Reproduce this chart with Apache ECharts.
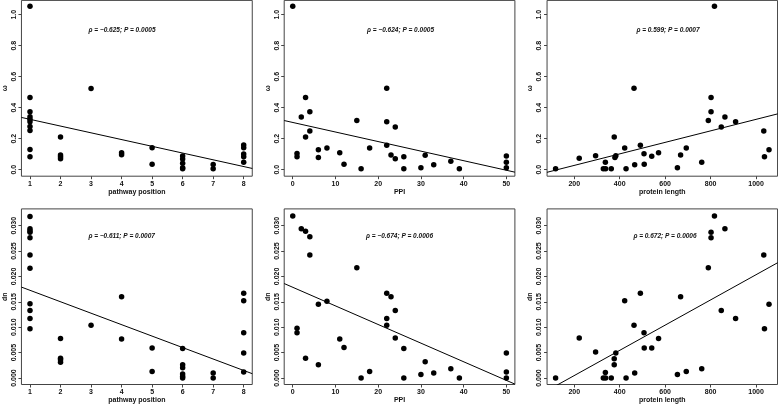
<!DOCTYPE html>
<html>
<head>
<meta charset="utf-8">
<script src="https://cdn.jsdelivr.net/npm/echarts@6/dist/echarts.min.js"></script>
<style>
html,body{margin:0;padding:0;background:#fff;}
#c{width:778px;height:406px;}
</style>
</head>
<body>
<div id="c"></div>
<script>
// ---- data ----
var posTicks = [1,2,3,4,5,6,7,8];
var ppiTicks = [0,10,20,30,40,50];
var lenTicks = [200,400,600,800,1000];
var omegaTicks = [0,0.2,0.4,0.6,0.8,1.0];
var dnTicks = [0,0.005,0.010,0.015,0.020,0.025,0.030];

// omega vs pathway position
var posOmegaX = [1,1,1,1,1,1,1,1,1,1, 2,2,2,2, 3, 4,4, 5,5, 6,6,6,6,6, 7,7, 8,8,8,8,8];
var posOmegaY = [1.054,0.465,0.374,0.342,0.325,0.31,0.278,0.252,0.131,0.084, 0.211,0.095,0.084,0.071, 0.523, 0.110,0.097, 0.142,0.035, 0.088,0.069,0.041,0.013,0.006, 0.033,0.006, 0.159,0.142,0.101,0.084,0.048];

// omega vs PPI
var ppiOmegaX = [0,1,1,2,3,3,4,4,6,6,8,11,12,15,16,18,22,22,22,23,24,24,26,26,30,31,33,37,39,50,50,50];
var ppiOmegaY = [1.054,0.105,0.084,0.34,0.465,0.211,0.374,0.25,0.129,0.078,0.14,0.11,0.035,0.317,0.006,0.14,0.525,0.31,0.158,0.095,0.275,0.071,0.084,0.006,0.013,0.093,0.032,0.054,0.006,0.088,0.048,0.013];

// omega vs protein length
var lenOmegaX = [118,222,294,328,338,337,363,376,379,383,422,428,463,466,491,507,508,541,571,654,668,693,761,790,802,802,817,847,863,910,1034,1037,1057];
var lenOmegaY = [0.006,0.073,0.09,0.006,0.006,0.048,0.006,0.211,0.078,0.09,0.14,0.006,0.525,0.032,0.158,0.103,0.035,0.086,0.11,0.013,0.095,0.14,0.048,0.317,0.465,0.374,1.054,0.275,0.34,0.31,0.25,0.084,0.129];

// dn vs pathway position
var posDnX = [1,1,1,1,1,1,1,1,1,1,1, 2,2,2,2, 3, 4,4, 5,5, 6,6,6,6,6,6, 7,7, 8,8,8,8,8];
var posDnY = [0.0318,0.0294,0.0290,0.0287,0.0276,0.0242,0.0216,0.0146,0.0133,0.0117,0.0097, 0.0078,0.0039,0.0036,0.0031, 0.0104, 0.0160,0.0077, 0.0059,0.0013, 0.0058,0.0026,0.0020,0.0008,0.0003,0.0000, 0.0010,0.0000, 0.0167,0.0152,0.0089,0.0049,0.0012];

// dn vs PPI
var ppiDnX = [0,2,3,4,4,15,6,8,1,1,3,6,11,12,16,18,22,23,24,22,22,24,26,26,30,31,33,37,39,50,50,50];
var ppiDnY = [0.0319,0.0294,0.0289,0.0278,0.0242,0.0217,0.0145,0.0151,0.0098,0.0089,0.0039,0.0026,0.0077,0.0060,0.0000,0.0013,0.0167,0.0160,0.0133,0.0117,0.0104,0.0079,0.0058,0.0000,0.0007,0.0032,0.0010,0.0018,0.0000,0.0049,0.0012,0.0000];

// dn vs protein length
var lenDnX = [118,222,294,328,337,338,363,376,376,383,422,428,463,466,491,507,508,541,571,654,668,693,761,790,802,802,817,847,863,910,1034,1037,1057];
var lenDnY = [0.0000,0.0079,0.0051,0.0000,0.0011,0.0000,0.0000,0.0038,0.0026,0.0049,0.0152,0.0000,0.0104,0.0010,0.0167,0.0089,0.0059,0.0059,0.0078,0.0007,0.0160,0.0013,0.0018,0.0217,0.0287,0.0276,0.0319,0.0133,0.0294,0.0117,0.0242,0.0097,0.0145];

// fitted regression lines (endpoints)
var fitPosOmega = [[0.72,0.337],[8.28,0.008]];
var fitPpiOmega = [[-2,0.317],[52,-0.016]];
var fitLenOmega = [[80,-0.017],[1095,0.36]];
var fitPosDn = [[0.72,0.0179],[8.28,0.00085]];
var fitPpiDn = [[-2,0.0186],[52,-0.0012]];
var fitLenDn = [[80,-0.0025],[1095,0.0227]];

var statLabels = ['ρ = −0.625; P = 0.0005','ρ = −0.624; P = 0.0005','ρ = 0.599; P = 0.0007',
                  'ρ = −0.611; P = 0.0007','ρ = −0.674; P = 0.0006','ρ = 0.672; P = 0.0006'];
var xNames = ['pathway position','PPI','protein length'];
var yNames = ['ω','dn'];

// ---- layout ----
var FONT = 'Liberation Sans, Arial, sans-serif';
var colLeft = [21.45, 284.2, 547.05];
var colWidth = [230.8, 230.7, 230.5];
var rowTop = [0.4, 208.9];
var rowHeight = [175.8, 175.6];
var xRanges = [[0.72,8.28],[-2,52],[80.4,1094.6]];
var yRanges = [[-0.042,1.092],[-0.00128,0.0333]];
var xTicksAll = [posTicks, ppiTicks, lenTicks];
var yTicksAll = [omegaTicks, dnTicks];
var panels = [
  [posOmegaX,posOmegaY,fitPosOmega],[ppiOmegaX,ppiOmegaY,fitPpiOmega],[lenOmegaX,lenOmegaY,fitLenOmega],
  [posDnX,posDnY,fitPosDn],[ppiDnX,ppiDnY,fitPpiDn],[lenDnX,lenDnY,fitLenDn]
];
var statPos = [[122,30.7],[400.5,30.7],[668,30.7],[121.7,236.3],[399.5,236.3],[665,236.3]];

var grids=[], xAxes=[], yAxes=[], series=[], graphics=[];
for (var r=0;r<2;r++){
  for (var c=0;c<3;c++){
    var i = r*3+c;
    grids.push({left:colLeft[c], top:rowTop[r], width:colWidth[c], height:rowHeight[r],
      show:true, borderColor:'#444', borderWidth:1, backgroundColor:'#fff', containLabel:false});
    xAxes.push({type:'value', gridIndex:i, min:xRanges[c][0], max:xRanges[c][1],
      name:xNames[c], nameLocation:'middle', nameGap:12,
      nameTextStyle:{fontFamily:FONT, fontSize:7, fontWeight:'bold', color:'#111'},
      axisLine:{show:false, onZero:false},
      axisTick:{show:true, inside:false, length:3, customValues:xTicksAll[c], lineStyle:{color:'#444'}},
      axisLabel:{customValues:xTicksAll[c], margin:4, fontFamily:FONT, fontSize:7, fontWeight:'bold', color:'#111',
        formatter:function(v){return String(v);}},
      splitLine:{show:false}});
    (function(rr){
    yAxes.push({type:'value', gridIndex:i, min:yRanges[rr][0], max:yRanges[rr][1],
      name:yNames[rr], nameLocation:'middle', nameGap:13, nameRotate:90,
      nameTextStyle:{fontFamily:FONT, fontSize:7, fontWeight:'bold', color:'#111'},
      axisLine:{show:false, onZero:false},
      axisTick:{show:true, inside:false, length:3, customValues:yTicksAll[rr], lineStyle:{color:'#444'}},
      axisLabel:{customValues:yTicksAll[rr], rotate:90, margin:4, fontFamily:FONT, fontSize:7, fontWeight:'bold', color:'#111',
        formatter:function(v){return rr===0 ? v.toFixed(1) : v.toFixed(3);}},
      splitLine:{show:false}});
    })(r);
    var px = panels[i][0], py = panels[i][1];
    var pts = px.map(function(x,k){return [x, py[k]];});
    series.push({type:'scatter', xAxisIndex:i, yAxisIndex:i, data:pts, symbol:'circle', symbolSize:5.5,
      itemStyle:{color:'#000', opacity:1}, silent:true});
    series.push({type:'line', xAxisIndex:i, yAxisIndex:i, data:panels[i][2], symbol:'none', clip:true,
      lineStyle:{color:'#000', width:1}, silent:true});
    graphics.push({type:'text', x:statPos[i][0], y:statPos[i][1],
      style:{text:statLabels[i], fill:'#111', font:'italic bold 6.5px '+FONT, textAlign:'center', textVerticalAlign:'middle'}});
  }
}

var chart = echarts.init(document.getElementById('c'), null, {renderer:'canvas'});
chart.setOption({
  animation:false,
  backgroundColor:'#fff',
  grid:grids, xAxis:xAxes, yAxis:yAxes, series:series, graphic:graphics
});
</script>
</body>
</html>
